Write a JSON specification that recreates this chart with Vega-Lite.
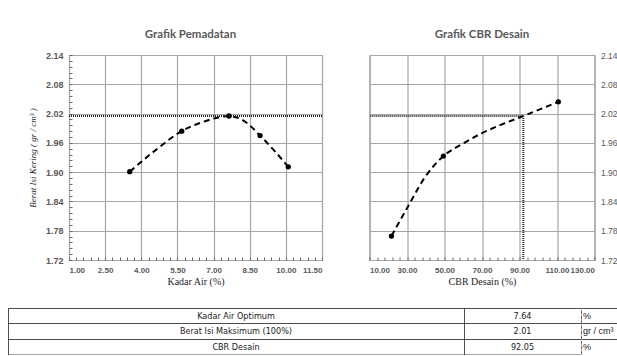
{
  "$schema": "https://vega.github.io/schema/vega-lite/v6.json",
  "background": "white",
  "padding": {"left": 7, "top": 28, "right": 0, "bottom": 0},
  "autosize": {"type": "pad"},
  "bounds": "full",
  "spacing": 20,
  "datasets": {
    "pemadatan": [
      {"kadar_air": 3.52, "berat_isi": 1.901},
      {"kadar_air": 5.68, "berat_isi": 1.984},
      {"kadar_air": 7.64, "berat_isi": 2.015},
      {"kadar_air": 8.93, "berat_isi": 1.975},
      {"kadar_air": 10.10, "berat_isi": 1.911}
    ],
    "kurva_pemadatan": [
      {"kadar_air": 3.52, "berat_isi": 1.901},
      {"kadar_air": 4.54, "berat_isi": 1.943},
      {"kadar_air": 5.68, "berat_isi": 1.984},
      {"kadar_air": 6.63, "berat_isi": 2.004},
      {"kadar_air": 7.64, "berat_isi": 2.015},
      {"kadar_air": 8.29, "berat_isi": 2.004},
      {"kadar_air": 8.93, "berat_isi": 1.975},
      {"kadar_air": 9.54, "berat_isi": 1.943},
      {"kadar_air": 10.10, "berat_isi": 1.911}
    ],
    "cbr": [
      {"cbr": 21.7, "berat_isi": 1.769},
      {"cbr": 49.4, "berat_isi": 1.933},
      {"cbr": 110.7, "berat_isi": 2.044}
    ],
    "kurva_cbr": [
      {"cbr": 21.7, "berat_isi": 1.769},
      {"cbr": 30.0, "berat_isi": 1.826},
      {"cbr": 39.3, "berat_isi": 1.888},
      {"cbr": 49.4, "berat_isi": 1.933},
      {"cbr": 58.7, "berat_isi": 1.956},
      {"cbr": 70.0, "berat_isi": 1.980},
      {"cbr": 80.0, "berat_isi": 1.997},
      {"cbr": 92.05, "berat_isi": 2.015},
      {"cbr": 110.7, "berat_isi": 2.044}
    ],
    "desain": [{"cbr": 92.05, "berat_isi": 2.015}],
    "tabel": [
      {"parameter": "Kadar Air Optimum", "nilai": "7.64", "satuan": "%"},
      {"parameter": "Berat Isi Maksimum (100%)", "nilai": "2.01", "satuan": "gr / cm³"},
      {"parameter": "CBR Desain", "nilai": "92.05", "satuan": "%"}
    ]
  },
  "vconcat": [
    {
      "bounds": "flush",
      "spacing": 0,
      "hconcat": [
        {
          "width": 60.5,
          "height": 205,
          "data": {"values": []},
          "mark": "point",
          "view": {"stroke": null}
        },
        {
          "bounds": "flush",
          "spacing": 47.5,
          "hconcat": [
            {
              "width": 253,
              "height": 205,
              "title": {"text": "Grafik Pemadatan", "dx": -5},
              "resolve": {"axis": {"x": "independent", "y": "independent"}},
              "layer": [
                {
                  "data": {"name": "kurva_pemadatan"},
                  "mark": {"type": "line", "interpolate": "monotone", "color": "black", "strokeWidth": 2, "strokeDash": [6, 4]},
                  "encoding": {
                    "x": {"field": "kadar_air", "type": "quantitative",
                      "scale": {"domain": [1, 11.5], "nice": false, "zero": false},
                      "axis": {"values": [1, 2.5, 4, 5.5, 7, 8.5, 10, 11.5], "format": ".2f", "title": "Kadar Air (%)", "labelPadding": 6, "titlePadding": 2, "labelOverlap": false, "labelFontSize": 8}},
                    "y": {"field": "berat_isi", "type": "quantitative",
                      "scale": {"domain": [1.72, 2.14], "nice": false, "zero": false},
                      "axis": {"values": [1.72, 1.78, 1.84, 1.9, 1.96, 2.02, 2.08, 2.14], "format": ".2f", "title": "Berat Isi Kering ( gr / cm³ )", "titleFontStyle": "italic", "titleFontSize": 9, "labelPadding": 6, "titlePadding": 8, "labelOverlap": false}}
                  }
                },
                {
                  "data": {"name": "pemadatan"},
                  "mark": {"type": "circle", "color": "black", "size": 28, "opacity": 1},
                  "encoding": {
                    "x": {"field": "kadar_air", "type": "quantitative", "axis": null},
                    "y": {"field": "berat_isi", "type": "quantitative", "axis": null}
                  }
                },
                {
                  "data": {"name": "desain"},
                  "mark": {"type": "rule", "color": "#262626", "strokeWidth": 2, "strokeDash": [1, 1]},
                  "encoding": {
                    "y": {"field": "berat_isi", "type": "quantitative", "axis": null}
                  }
                },
                {
                  "data": {"name": "pemadatan"},
                  "mark": {"type": "point", "opacity": 0},
                  "encoding": {
                    "x": {"field": "kadar_air", "type": "quantitative",
                      "axis": {"orient": "bottom", "title": null, "labels": false, "grid": false, "ticks": true, "tickSize": -3, "tickColor": "#666666", "tickWidth": 1,
                        "values": [1.0,1.3,1.6,1.9,2.2,2.5,2.8,3.1,3.4,3.7,4.0,4.3,4.6,4.9,5.2,5.5,5.8,6.1,6.4,6.7,7.0,7.3,7.6,7.9,8.2,8.5,8.8,9.1,9.4,9.7,10.0,10.3,10.6,10.9,11.2,11.5]}},
                    "y": {"field": "berat_isi", "type": "quantitative",
                      "axis": {"orient": "left", "title": null, "labels": false, "grid": false, "ticks": true, "tickSize": -3, "tickColor": "#666666", "tickWidth": 1,
                        "values": [1.72,1.732,1.744,1.756,1.768,1.78,1.792,1.804,1.816,1.828,1.84,1.852,1.864,1.876,1.888,1.9,1.912,1.924,1.936,1.948,1.96,1.972,1.984,1.996,2.008,2.02,2.032,2.044,2.056,2.068,2.08,2.092,2.104,2.116,2.128,2.14]}}
                  }
                }
              ]
            },
            {
              "width": 225,
              "height": 205,
              "title": {"text": "Grafik CBR Desain"},
              "resolve": {"axis": {"x": "independent", "y": "independent"}},
              "layer": [
                {
                  "data": {"name": "kurva_cbr"},
                  "mark": {"type": "line", "interpolate": "monotone", "color": "black", "strokeWidth": 2, "strokeDash": [6, 4]},
                  "encoding": {
                    "x": {"field": "cbr", "type": "quantitative",
                      "scale": {"domain": [10, 130], "nice": false, "zero": false},
                      "axis": {"values": [10, 30, 50, 70, 90, 110, 130], "format": ".2f", "title": "CBR Desain (%)", "labelPadding": 6, "titlePadding": 2, "labelOverlap": false, "labelFontSize": 8}},
                    "y": {"field": "berat_isi", "type": "quantitative",
                      "scale": {"domain": [1.72, 2.14], "nice": false, "zero": false},
                      "axis": {"orient": "right", "values": [1.72, 1.78, 1.84, 1.9, 1.96, 2.02, 2.08, 2.14], "format": ".2f", "title": null, "labelPadding": 6, "labelFontSize": 8.5, "labelFontWeight": "normal", "labelOverlap": false}}
                  }
                },
                {
                  "data": {"name": "cbr"},
                  "mark": {"type": "circle", "color": "black", "size": 28, "opacity": 1},
                  "encoding": {
                    "x": {"field": "cbr", "type": "quantitative", "axis": null},
                    "y": {"field": "berat_isi", "type": "quantitative", "axis": null}
                  }
                },
                {
                  "data": {"name": "desain"},
                  "mark": {"type": "rule", "color": "#262626", "strokeWidth": 2, "strokeDash": [1, 1]},
                  "encoding": {
                    "x": {"field": "cbr", "type": "quantitative", "axis": null},
                    "x2": {"datum": 10},
                    "y": {"field": "berat_isi", "type": "quantitative", "axis": null}
                  }
                },
                {
                  "data": {"name": "desain"},
                  "mark": {"type": "rule", "color": "#262626", "strokeWidth": 2, "strokeDash": [1, 1]},
                  "encoding": {
                    "x": {"field": "cbr", "type": "quantitative", "axis": null},
                    "y": {"field": "berat_isi", "type": "quantitative", "axis": null},
                    "y2": {"datum": 1.72}
                  }
                },
                {
                  "data": {"name": "cbr"},
                  "mark": {"type": "point", "opacity": 0},
                  "encoding": {
                    "x": {"field": "cbr", "type": "quantitative",
                      "axis": {"orient": "bottom", "title": null, "labels": false, "grid": false, "ticks": true, "tickSize": -3, "tickColor": "#666666", "tickWidth": 1,
                        "values": [10,14,18,22,26,30,34,38,42,46,50,54,58,62,66,70,74,78,82,86,90,94,98,102,106,110,114,118,122,126,130]}},
                    "y": {"field": "berat_isi", "type": "quantitative", "axis": null}
                  }
                }
              ]
            }
          ]
        }
      ]
    },
    {
      "bounds": "flush",
      "spacing": 0,
      "hconcat": [
        {
          "width": 456,
          "height": 46.5,
          "data": {"name": "tabel"},
          "view": {"stroke": "#4d4d4d"},
          "mark": {"type": "text", "font": "Liberation Sans Narrow, DejaVu Sans Condensed, Roboto Condensed, sans-serif", "fontSize": 9, "color": "#1a1a1a", "baseline": "middle"},
          "encoding": {
            "y": {"field": "parameter", "type": "nominal", "sort": null,
              "scale": {"type": "band", "paddingInner": 0, "paddingOuter": 0},
              "axis": {"title": null, "labels": false, "ticks": false, "domain": false, "grid": true, "bandPosition": 0, "gridColor": "#4d4d4d", "gridWidth": 1}},
            "text": {"field": "parameter"}
          }
        },
        {
          "width": 117,
          "height": 46.5,
          "data": {"name": "tabel"},
          "view": {"stroke": "#4d4d4d"},
          "mark": {"type": "text", "font": "Liberation Sans Narrow, DejaVu Sans Condensed, Roboto Condensed, sans-serif", "fontSize": 9, "color": "#1a1a1a", "baseline": "middle"},
          "encoding": {
            "y": {"field": "parameter", "type": "nominal", "sort": null,
              "scale": {"type": "band", "paddingInner": 0, "paddingOuter": 0},
              "axis": {"title": null, "labels": false, "ticks": false, "domain": false, "grid": true, "bandPosition": 0, "gridColor": "#4d4d4d", "gridWidth": 1}},
            "text": {"field": "nilai"}
          }
        },
        {
          "width": 36,
          "height": 46.5,
          "data": {"name": "tabel"},
          "view": {"stroke": null},
          "mark": {"type": "text", "font": "Liberation Sans", "fontSize": 9, "color": "#1a1a1a", "baseline": "middle", "align": "left", "dx": -16},
          "encoding": {
            "y": {"field": "parameter", "type": "nominal", "sort": null,
              "scale": {"type": "band", "paddingInner": 0, "paddingOuter": 0},
              "axis": {"title": null, "labels": false, "ticks": false, "domain": true, "domainColor": "#b3b3b3", "domainDash": [3, 2], "domainWidth": 1, "grid": true, "bandPosition": 0, "gridColor": "#4d4d4d", "gridWidth": 1}},
            "text": {"field": "satuan"}
          }
        }
      ]
    }
  ],
  "config": {
    "view": {"stroke": "#8c8c8c", "strokeWidth": 1},
    "axis": {
      "labelFont": "Liberation Sans",
      "labelFontWeight": "bold",
      "labelFontSize": 9,
      "labelColor": "#595959",
      "gridColor": "#a6a6a6",
      "gridWidth": 1.2,
      "domain": false,
      "ticks": false,
      "titleFont": "Liberation Serif",
      "titleFontWeight": "normal",
      "titleColor": "#262626",
      "titleFontSize": 10
    },
    "title": {"font": "Lato", "fontSize": 11.5, "fontWeight": "bold", "color": "#595959", "offset": 11, "anchor": "middle"}
  }
}
